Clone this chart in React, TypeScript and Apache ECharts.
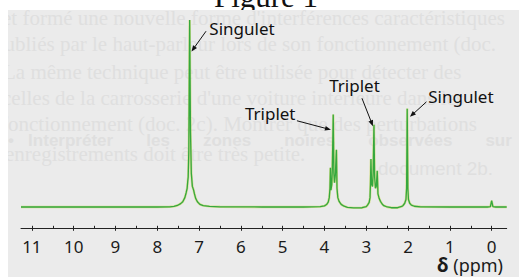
import React, { useEffect, useRef } from 'react';
import * as echarts from 'echarts';

// x-axis (chemical shift, ppm) tick values
const majorTicks = [0, 1, 2, 3, 4, 5, 6, 7, 8, 9, 10, 11];
const minorTicks = [0, 0.5, 1, 1.5, 2, 2.5, 3, 3.5, 4, 4.5, 5, 5.5, 6, 6.5, 7, 7.5, 8, 8.5, 9, 9.5, 10, 10.5, 11];

// spectrum: [ppm, intensity]
const baselineLeft: [number, number][] = [
  [11.26, 0], [10, 0], [9, 0], [8, 0], [7.7, 0.1], [7.6, 0.3],
];
const aromaticSinglet: [number, number][] = [
  [7.52, 0.8], [7.44, 1.8], [7.39, 2.8], [7.34, 5], [7.31, 7.5], [7.285, 10], [7.27, 14],
  [7.26, 16], [7.245, 30], [7.225, 100], [7.205, 40], [7.185, 18], [7.16, 11], [7.13, 9],
  [7.11, 7], [7.08, 4.5], [7.04, 2.8], [6.98, 1.4], [6.9, 0.7], [6.75, 0.3], [6.5, 0.1],
  [5.5, 0], [4.5, 0], [4.1, 0.2],
];
const tripletA: [number, number][] = [
  [4.0, 0.6], [3.95, 1.3], [3.91, 2.6], [3.885, 5], [3.868, 10], [3.857, 21], [3.845, 9],
  [3.825, 12], [3.812, 20], [3.79, 49.4], [3.775, 18], [3.76, 13], [3.74, 17], [3.714, 30.6],
  [3.7, 10], [3.68, 5], [3.65, 3], [3.6, 1.4], [3.53, 0.4], [3.45, -0.2], [3.3, -0.5],
  [3.1, -0.4], [3.0, 0.2],
];
const tripletB: [number, number][] = [
  [2.97, 1], [2.93, 2.5], [2.91, 5], [2.9, 12], [2.888, 25.7], [2.872, 12], [2.85, 11],
  [2.835, 18], [2.816, 44], [2.8, 16], [2.78, 10], [2.76, 11], [2.737, 19.4], [2.72, 7],
  [2.69, 4.5], [2.66, 3], [2.62, 1.6], [2.58, 0.7], [2.5, 0], [2.4, -0.4], [2.25, -0.4],
  [2.15, 0.3],
];
const methylSinglet: [number, number][] = [
  [2.12, 0.8], [2.08, 2], [2.05, 4], [2.035, 10], [2.02, 52.6], [2.005, 10], [1.99, 4],
  [1.96, 2], [1.92, 1], [1.85, 0.4], [1.7, 0.1], [1.0, 0],
];
const tmsPeak: [number, number][] = [
  [0.1, 0], [0.03, 0.2], [0.0, 3.4], [-0.03, 0.2], [-0.1, 0], [-0.36, 0],
];

// annotations: label and the point (ppm, intensity) the arrow points at
const annotationLabels = ['Singulet', 'Triplet', 'Triplet', 'Singulet'];
const annotationPpm = [7.18, 3.845, 2.84, 1.955];
const annotationIntensity = [83.2, 41.3, 43.2, 48.2];

// faint show-through text of the scanned page
const pageLines = [
  "et formé une nouvelle forme d'interférences caractéristiques",
  'publiés par le haut-parleur lors de son fonctionnement (doc.',
  'La même technique peut être utilisée pour détecter des',
  "celles de la carrosserie d'une voiture intérieure dans les",
  'fonctionnement (doc. 2c). Montrer que des perturbations',
  '•   Interpréter       les       zones       noires       observées       sur',
  'enregistrements doit être très petite.',
  'document 2b.',
];

const spectrum: [number, number][] = [
  ...baselineLeft, ...aromaticSinglet, ...tripletA, ...tripletB, ...methylSinglet, ...tmsPeak,
];

const GREEN = '#35a83e';
const BG = '#ebebeb';

export default function App() {
  const ref = useRef<HTMLDivElement>(null);
  useEffect(() => {
    if (!ref.current) return;
    const chart = echarts.init(ref.current, undefined, { renderer: 'svg' });

    const pageLayout = [
      { x: 2, y: 18, font: '21px "Liberation Serif"' },
      { x: -6, y: 44, font: '21px "Liberation Serif"' },
      { x: 3, y: 72, font: '21px "Liberation Serif"' },
      { x: 2, y: 98, font: '21px "Liberation Serif"' },
      { x: 1, y: 124, font: '21px "Liberation Serif"' },
      { x: 8, y: 140, font: 'bold 17px "Liberation Sans"' },
      { x: 5, y: 154, font: '21px "Liberation Serif"' },
      { x: 378, y: 168, font: '19px "Liberation Sans"' },
    ];

    const baseGraphics: any[] = [
      {
        type: 'text', x: 266, y: -4, z: -20,
        style: { text: 'Figure 1', font: '31px "Liberation Serif"', fill: '#111', textAlign: 'center', textVerticalAlign: 'middle' },
      },
      { type: 'rect', shape: { x: 8, y: 10, width: 511, height: 267 }, z: -15, style: { fill: BG } },
      ...pageLines.map((t, i) => ({
        type: 'text', x: pageLayout[i].x, y: pageLayout[i].y, z: -12,
        style: { text: t, font: pageLayout[i].font, fill: '#dfdfdf', textVerticalAlign: 'middle' },
      })),
      { type: 'rect', shape: { x: 0, y: 10, width: 8, height: 267 }, z: -11, style: { fill: '#ffffff' } },
      {
        type: 'text', x: 503, y: 265, z: 5,
        style: {
          text: '{d|δ} (ppm)',
          font: '18px "Noto Sans"', fill: '#1a1a1a', textAlign: 'right', textVerticalAlign: 'middle',
          rich: { d: { fontSize: 19, fontWeight: 'bold', fontFamily: 'Noto Sans', fill: '#1a1a1a' } },
        },
      },
    ];

    const option: any = {
      animation: false,
      backgroundColor: '#ffffff',
      grid: { left: 21, right: 12.3, top: 20, bottom: 48.7, containLabel: false },
      xAxis: [
        {
          type: 'value', inverse: true, min: -0.36, max: 11.26, position: 'bottom',
          axisLine: { show: true, onZero: false, lineStyle: { color: '#222', width: 1 } },
          axisTick: { show: true, inside: true, length: 2.5, customValues: minorTicks, lineStyle: { color: '#222', width: 1 } },
          axisLabel: { show: false },
          splitLine: { show: false },
        },
        {
          type: 'value', inverse: true, min: -0.36, max: 11.26, position: 'bottom',
          axisLine: { show: false, onZero: false },
          axisTick: { show: true, inside: false, length: 2.5, customValues: majorTicks, lineStyle: { color: '#222', width: 1 } },
          axisLabel: {
            show: true, customValues: majorTicks, margin: 10, fontSize: 17, fontFamily: 'Noto Sans', color: '#1a1a1a',
            formatter: (v: number) => String(v),
          },
          splitLine: { show: false },
        },
      ],
      yAxis: { type: 'value', min: -11.4, max: 100, show: false },
      series: [
        {
          type: 'line', xAxisIndex: 0, yAxisIndex: 0, data: spectrum, symbol: 'none', showSymbol: false,
          lineStyle: { color: '#c4d54a', width: 2.4, opacity: 0.55 }, z: 2, silent: true,
        },
        {
          type: 'line', xAxisIndex: 0, yAxisIndex: 0, data: spectrum, symbol: 'none', showSymbol: false,
          lineStyle: { color: GREEN, width: 1.3 }, z: 3,
        },
      ],
      graphic: baseGraphics,
    };
    chart.setOption(option);

    // arrows & labels positioned relative to the pointed data points
    const layout = [
      { tail: [14.5, -20.2], text: [17.8, -22.7] },
      { tail: [-34, -9], text: [-86, -16.5] },
      { tail: [-11, -28], text: [-43.7, -40.5] },
      { tail: [16.5, -15], text: [18.3, -20.5] },
    ];
    const annGraphics: any[] = [];
    annotationLabels.forEach((label, i) => {
      const tip = chart.convertToPixel({ xAxisIndex: 0, yAxisIndex: 0 }, [annotationPpm[i], annotationIntensity[i]]) as number[];
      const tail = [tip[0] + layout[i].tail[0], tip[1] + layout[i].tail[1]];
      const dx = tip[0] - tail[0];
      const dy = tip[1] - tail[1];
      const len = Math.sqrt(dx * dx + dy * dy);
      const ux = dx / len, uy = dy / len;
      const headLen = 6, headW = 2.4;
      const base = [tip[0] - ux * headLen, tip[1] - uy * headLen];
      annGraphics.push({
        type: 'line', z: 10,
        shape: { x1: tail[0], y1: tail[1], x2: base[0] + ux, y2: base[1] + uy },
        style: { stroke: '#111', lineWidth: 1 },
      });
      annGraphics.push({
        type: 'polygon', z: 10,
        shape: { points: [[tip[0], tip[1]], [base[0] - uy * headW, base[1] + ux * headW], [base[0] + uy * headW, base[1] - ux * headW]] },
        style: { fill: '#111' },
      });
      annGraphics.push({
        type: 'text', z: 10, x: tip[0] + layout[i].text[0], y: tip[1] + layout[i].text[1],
        style: { text: label, font: '17px "Noto Sans"', fill: '#111', textVerticalAlign: 'middle' },
      });
    });
    chart.setOption({ graphic: [...baseGraphics, ...annGraphics] });

    return () => chart.dispose();
  }, []);

  return <div ref={ref} style={{ position: 'absolute', left: 0, top: 0, width: 519, height: 277 }} />;
}
